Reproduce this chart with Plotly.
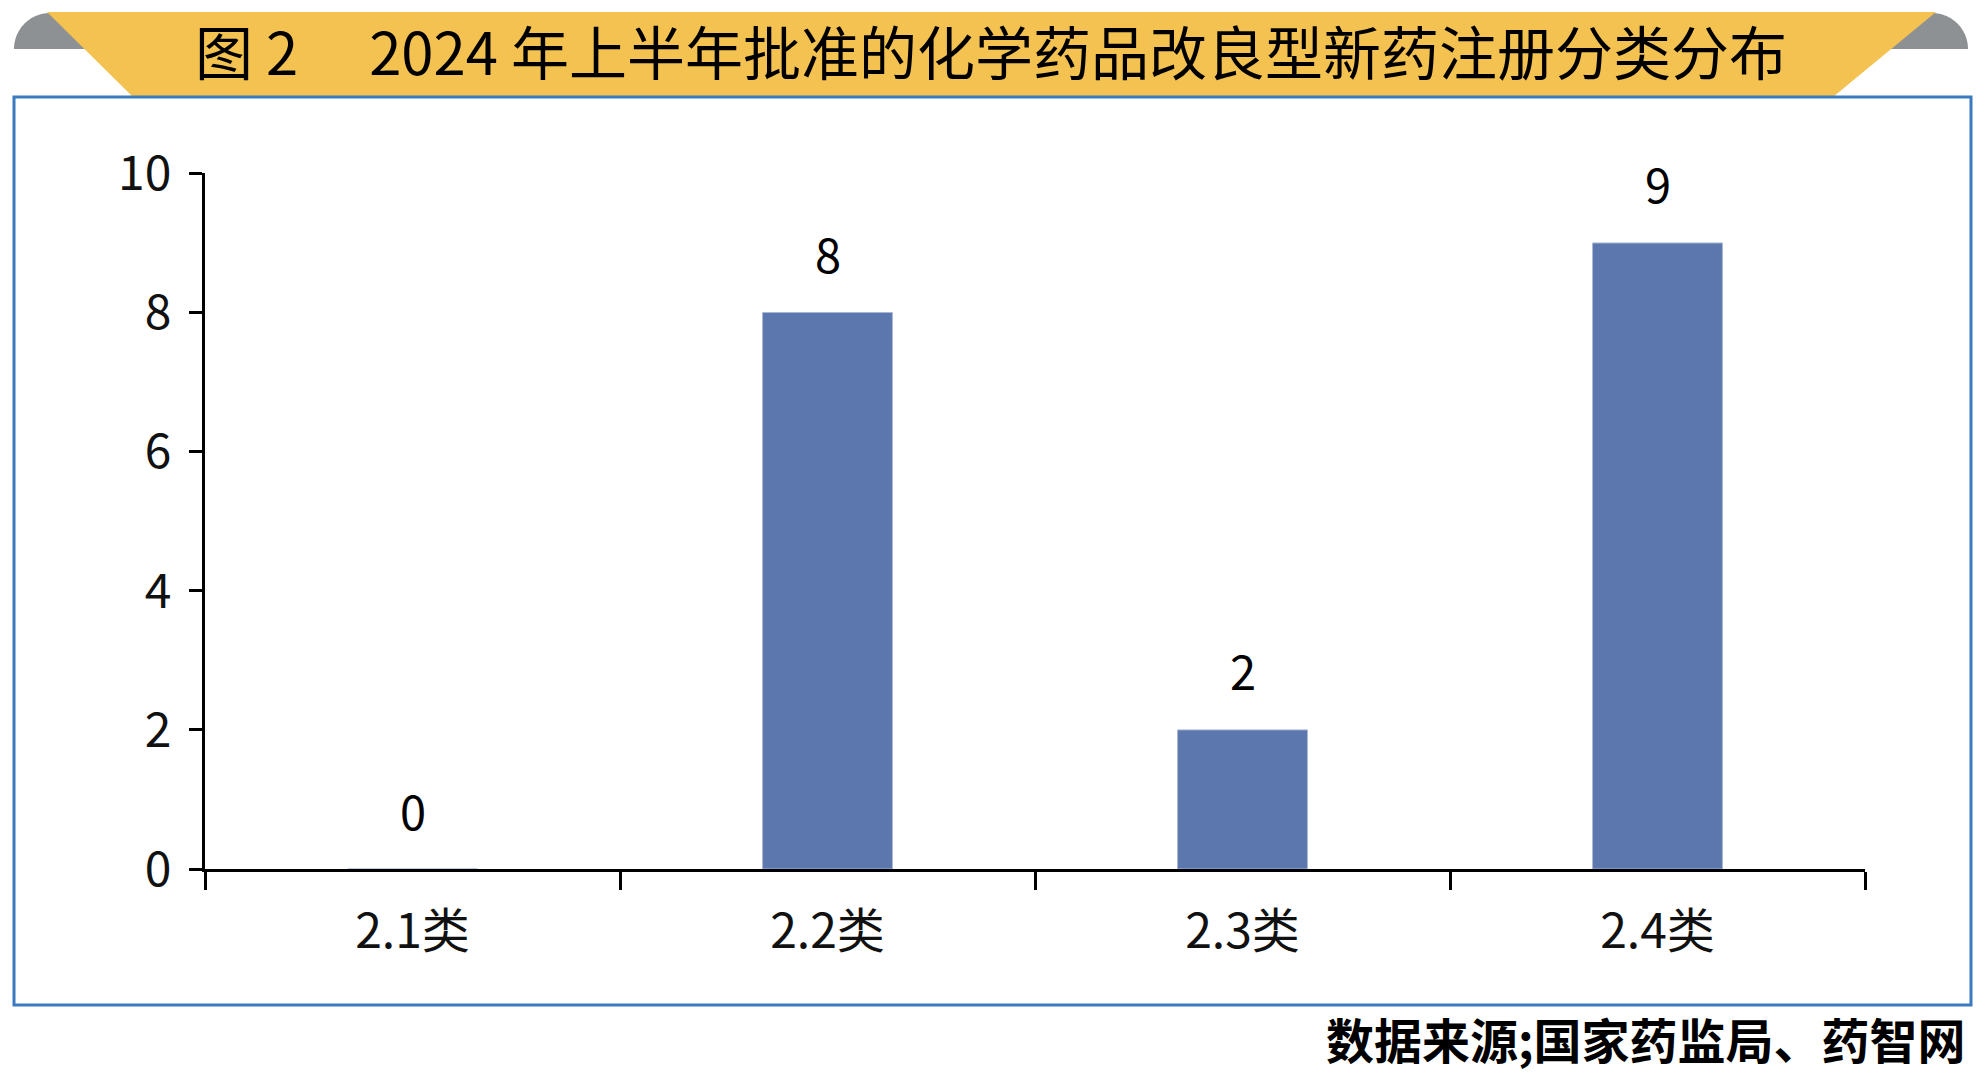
import math
import plotly.graph_objects as go

# page body has an 8px margin, so the figure is a bit smaller than the window
OFF = 8
W, H = 1986 - 2 * OFF, 1085 - 2 * OFF

categories = ["2.1类", "2.2类", "2.3类", "2.4类"]
counts = [0, 8, 2, 9]
y_ticks = [0, 2, 4, 6, 8, 10]

title_text = "图 2\u3000 2024 年上半年批准的化学药品改良型新药注册分类分布"
source_text = "数据来源;国家药监局、药智网"

FONT = "Noto Sans CJK SC"


# screen pixel -> paper helpers (margins are zero, so paper == whole figure)
def px(x):
    return (x - OFF) / W


def py(y):
    return (H - (y - OFF)) / H


def path_from(points):
    s = "M " + " L ".join(f"{px(a):.5f},{py(b):.5f}" for a, b in points)
    return s + " Z"


def arc(cx, cy, r, a0, a1, n=30):
    pts = []
    for i in range(n + 1):
        a = math.radians(a0 + (a1 - a0) * i / n)
        pts.append((cx + r * math.cos(a), cy - r * math.sin(a)))
    return pts


fig = go.Figure()

fig.add_trace(go.Bar(
    x=categories, y=counts,
    marker=dict(color="#5B77AE", line=dict(color="#A9B8D6", width=1)),
    width=0.313,
    hoverinfo="skip",
))

shapes = []
# grey curled corners
left_grey = arc(50, 49, 36, 180, 90) + [(110, 13), (110, 49)]
right_grey = [(1870, 13)] + arc(1932, 49, 36, 90, 0) + [(1870, 49)]
for pts in (left_grey, right_grey):
    shapes.append(dict(type="path", xref="paper", yref="paper", path=path_from(pts),
                       fillcolor="#8E9194", line=dict(width=0), layer="above"))
# yellow title banner
shapes.append(dict(type="path", xref="paper", yref="paper",
                   path=path_from([(47, 12), (1936, 12), (1833, 97), (133, 97)]),
                   fillcolor="#F3C251", line=dict(width=0), layer="above"))
# blue frame
shapes.append(dict(type="rect", xref="paper", yref="paper",
                   x0=px(14), x1=px(1971), y0=py(97), y1=py(1005),
                   line=dict(color="#3A7BBF", width=3), fillcolor="rgba(0,0,0,0)"))

annotations = []
for c, v in zip(categories, counts):
    annotations.append(dict(x=c, y=v, xref="x", yref="y", text=str(v), showarrow=False,
                            yshift=60, font=dict(family=FONT, size=47, color="#000000")))
annotations.append(dict(x=px(991), y=py(50), xref="paper", yref="paper", text=title_text,
                        showarrow=False, xanchor="center", yanchor="middle",
                        font=dict(family=FONT, size=58, color="#000000")))
annotations.append(dict(x=px(1968), y=py(1038), xref="paper", yref="paper",
                        text="<b>" + source_text + "</b>", showarrow=False,
                        xanchor="right", yanchor="middle",
                        font=dict(family=FONT, size=48, color="#000000")))

fig.update_layout(
    width=W, height=H,
    margin=dict(l=0, r=0, t=0, b=0),
    paper_bgcolor="white", plot_bgcolor="white",
    showlegend=False,
    bargap=0.687,
    shapes=shapes,
    annotations=annotations,
    font=dict(family=FONT, color="#000000"),
    xaxis=dict(
        domain=[px(205), px(1865)],
        type="category",
        showline=True, linecolor="#000000", linewidth=3,
        ticks="outside", tickson="boundaries", ticklen=18, tickwidth=3, tickcolor="#000000",
        tickfont=dict(family=FONT, size=48, color="#111111"),
        ticklabelstandoff=18,
        showgrid=False, zeroline=False,
        automargin=False,
    ),
    yaxis=dict(
        domain=[py(869), py(173.4)],
        range=[0, 10],
        tickvals=y_ticks,
        showline=True, linecolor="#000000", linewidth=3,
        ticks="outside", ticklen=13, tickwidth=3, tickcolor="#000000",
        tickfont=dict(family=FONT, size=48, color="#111111"),
        ticklabelstandoff=8,
        showgrid=False, zeroline=False,
        automargin=False,
    ),
)

fig.write_html("out.html")
